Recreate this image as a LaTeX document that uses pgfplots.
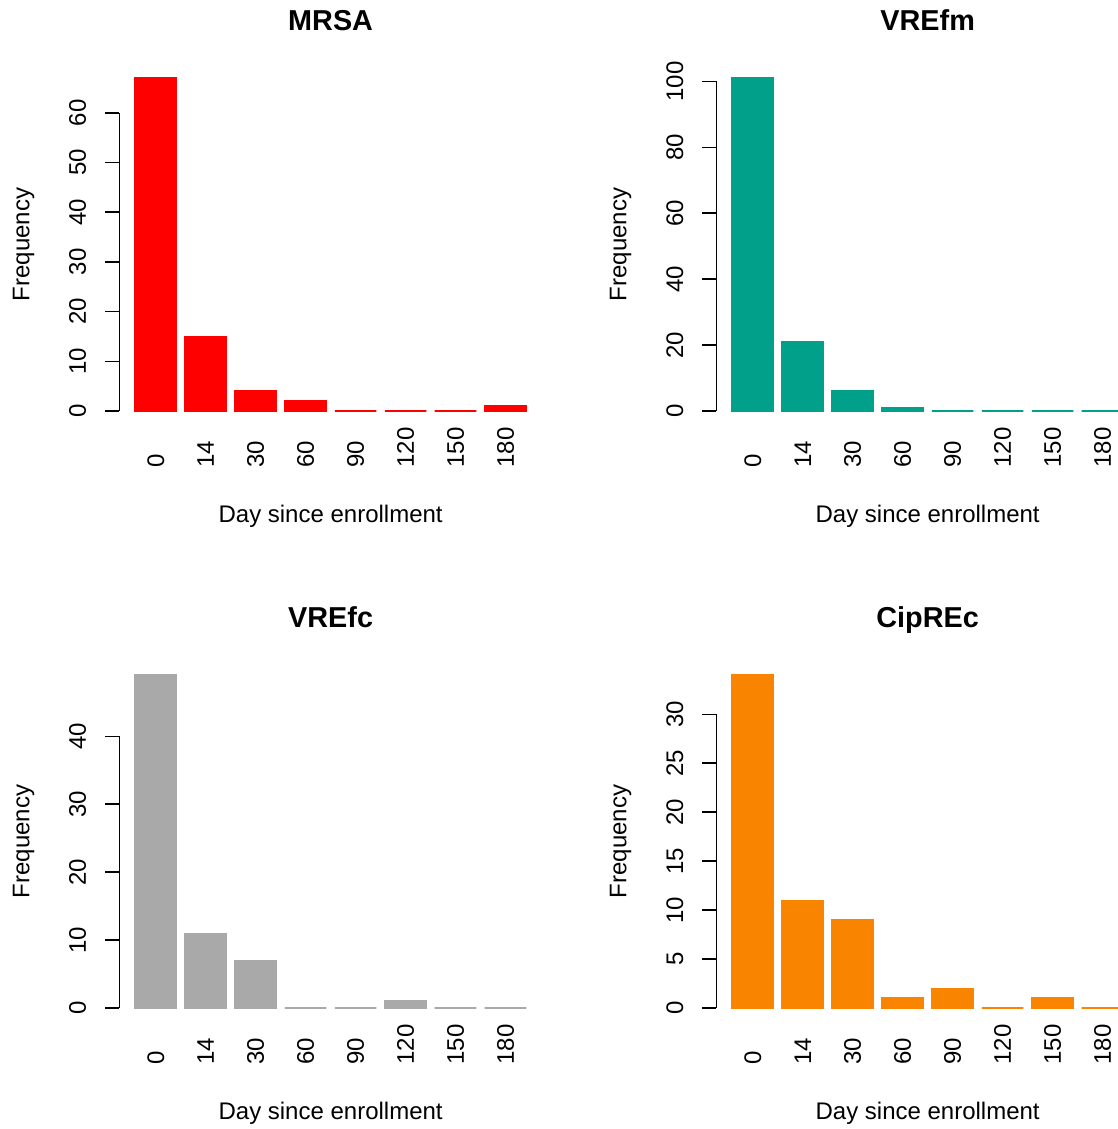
\documentclass[border=0pt]{standalone}
\usepackage{fontspec}
\setmainfont{Liberation Sans}
\usepackage{pgfplots}
\pgfplotsset{compat=1.18}

\definecolor{cMRSA}{HTML}{FF0000}
\definecolor{cVREfm}{HTML}{00A08A}
\definecolor{cVREfc}{HTML}{A9A9A9}
\definecolor{cCipREc}{HTML}{F98400}

\tikzset{yspine/.style={line width=0.75pt, black}}

\pgfplotsset{
  panel/.style={
    scale only axis, width=211.35pt, height=179.75pt, anchor=south west,
    xmin=-0.73, xmax=7.73,
    axis line style={draw=none},
    ytick pos=left,
    xtick={0,...,7}, xticklabels={0,14,30,60,90,120,150,180},
    xtick style={draw=none},
    ytick style={line width=0.75pt, black},
    tick align=outside, major tick length=7pt,
    /pgf/number format/assume math mode=true,
    tick label style={font=\fontsize{12}{14}\selectfont},
    xticklabel style={yshift=-14.85pt, rotate=90, anchor=west, inner sep=0pt},
    yticklabel style={xshift=-9.65pt, rotate=90, anchor=base, inner sep=0pt},
    ybar, bar width=0.8333,
    xlabel={Day since enrollment}, ylabel={Frequency},
    label style={font=\fontsize{12}{14}\selectfont},
    xlabel style={at={(axis description cs:0.5,-0.272)}, anchor=base, inner sep=0pt},
    ylabel style={at={(axis description cs:-0.2125,0.5)}, anchor=base, inner sep=0pt},
    title style={at={(axis description cs:0.5,1.0612)}, anchor=base, inner sep=0pt,
                 font=\bfseries\fontsize{14.4}{17}\selectfont},
    clip=false,
  },
}

\begin{document}
\begin{tikzpicture}
\path[use as bounding box] (0,0) rectangle (559pt,564.5pt);
\clip (0,0) rectangle (559pt,564.5pt);

% MRSA
\begin{axis}[panel, at={(59.65pt,352.35pt)}, title={MRSA},
  ymin=-2.68, ymax=69.68, ytick={0,10,...,60}]
  \addplot[fill=cMRSA, draw=cMRSA, line width=0.75pt] coordinates
    {(0,67) (1,15) (2,4) (3,2) (4,0) (5,0) (6,0) (7,1)};
  \draw[yspine] (axis cs:-0.73,0) -- (axis cs:-0.73,60);
\end{axis}

% VREfm
\begin{axis}[panel, at={(358.15pt,352.35pt)}, title={VREfm},
  ymin=-4.04, ymax=105.04, ytick={0,20,...,100}]
  \addplot[fill=cVREfm, draw=cVREfm, line width=0.75pt] coordinates
    {(0,101) (1,21) (2,6) (3,1) (4,0) (5,0) (6,0) (7,0)};
  \draw[yspine] (axis cs:-0.73,0) -- (axis cs:-0.73,100);
\end{axis}

% VREfc
\begin{axis}[panel, at={(59.65pt,53.85pt)}, title={VREfc},
  ymin=-1.96, ymax=50.96, ytick={0,10,...,40}]
  \addplot[fill=cVREfc, draw=cVREfc, line width=0.75pt] coordinates
    {(0,49) (1,11) (2,7) (3,0) (4,0) (5,1) (6,0) (7,0)};
  \draw[yspine] (axis cs:-0.73,0) -- (axis cs:-0.73,40);
\end{axis}

% CipREc
\begin{axis}[panel, at={(358.15pt,53.85pt)}, title={CipREc},
  ymin=-1.36, ymax=35.36, ytick={0,5,...,30}]
  \addplot[fill=cCipREc, draw=cCipREc, line width=0.75pt] coordinates
    {(0,34) (1,11) (2,9) (3,1) (4,2) (5,0) (6,1) (7,0)};
  \draw[yspine] (axis cs:-0.73,0) -- (axis cs:-0.73,30);
\end{axis}
\end{tikzpicture}
\end{document}
